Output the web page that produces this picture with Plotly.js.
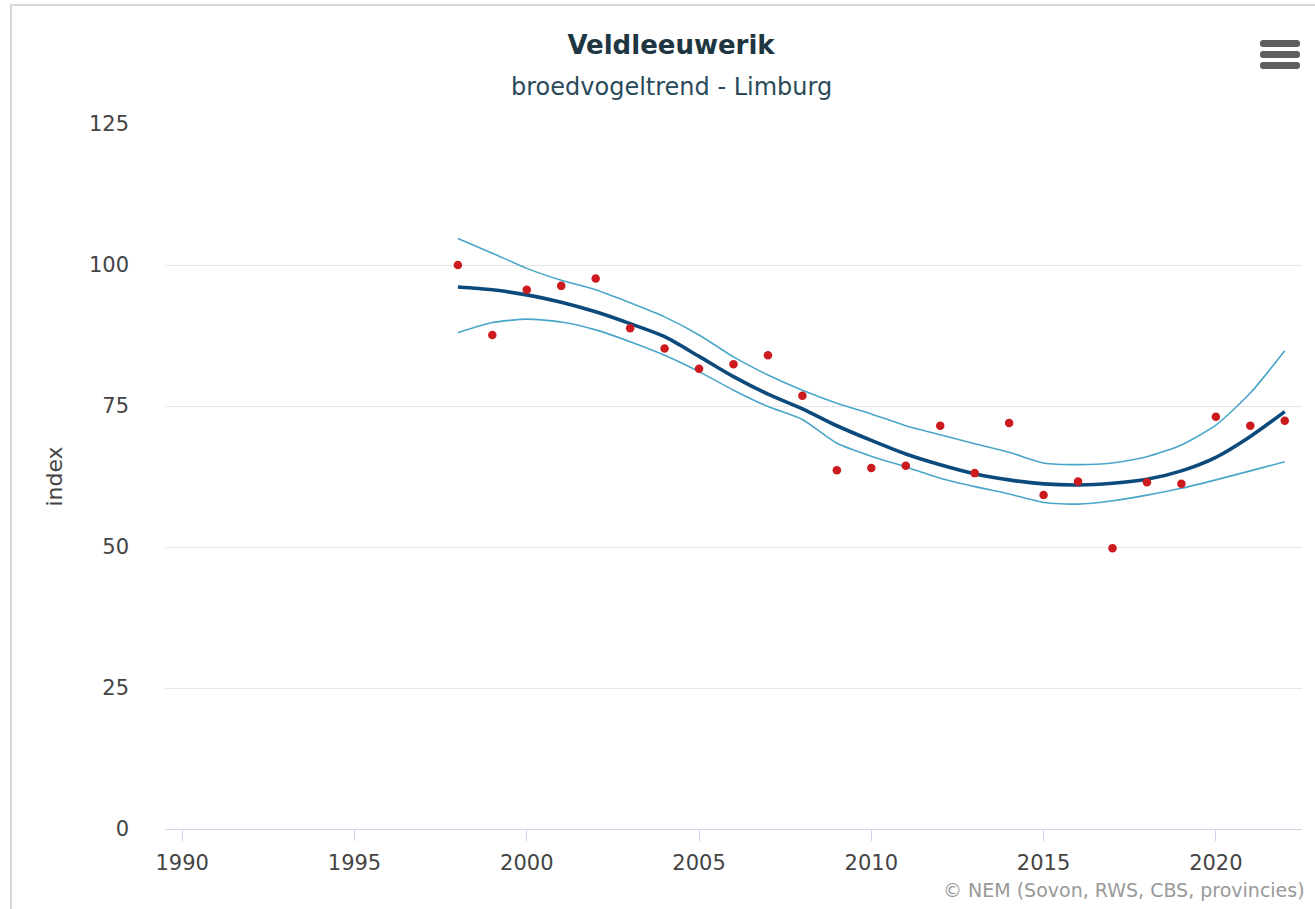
<!DOCTYPE html>
<html>
<head>
<meta charset="utf-8">
<script src="https://cdn.plot.ly/plotly-3.0.1.min.js"></script>
<style>
  html, body { margin: 0; padding: 0; background: #fff; }
  #wrap { position: relative; width: 1315px; height: 909px; overflow: hidden; }
  #frame { position: absolute; left: 10px; top: 4px; width: 1320px; height: 920px; border-left: 2px solid #d8d8d8; border-top: 2px solid #d8d8d8; box-sizing: border-box; pointer-events: none; }
  #chart { position: absolute; left: 0; top: 0; width: 1315px; height: 909px; }
  #menu { position: absolute; left: 1260px; top: 40px; width: 40px; height: 32px; }
  #menu div { height: 7px; background: #5f5f5f; border-radius: 3px; margin-bottom: 4px; }
</style>
</head>
<body>
<div id="wrap">
  <div id="chart"></div>
  <div id="frame"></div>
  <div id="menu"><div></div><div></div><div></div></div>
</div>
<script>
const years = [1998,1999,2000,2001,2002,2003,2004,2005,2006,2007,2008,2009,2010,2011,2012,2013,2014,2015,2016,2017,2018,2019,2020,2021,2022];
const indexValues = [100.0,87.6,95.6,96.3,97.6,88.8,85.2,81.6,82.4,84.0,76.8,63.6,64.0,64.4,71.5,63.1,72.0,59.2,61.6,49.8,61.5,61.2,73.1,71.5,72.4];
const trend = [96.1,95.6,94.7,93.4,91.7,89.6,87.3,83.8,80.2,77.1,74.5,71.5,68.9,66.5,64.6,63.0,61.9,61.2,61.0,61.3,62.0,63.5,65.9,69.6,74.0];
const upperCI = [104.7,102.1,99.4,97.3,95.6,93.3,90.8,87.6,83.7,80.5,77.8,75.5,73.6,71.5,69.9,68.3,66.8,64.9,64.6,64.9,66.0,68.1,71.6,77.3,84.8];
const lowerCI = [88.0,89.8,90.4,89.9,88.5,86.4,84.0,81.1,77.8,74.9,72.6,68.4,66.1,64.2,62.2,60.7,59.4,57.9,57.6,58.2,59.2,60.4,61.9,63.5,65.1];
const xTicks = [1990,1995,2000,2005,2010,2015,2020];
const yTicks = [0,25,50,75,100,125];

const font = '"DejaVu Sans", Verdana, sans-serif';

const traces = [
  { x: years, y: upperCI, type: 'scatter', mode: 'lines', line: { color: '#4aa6c9', width: 1.6, shape: 'spline', smoothing: 0.6 }, hoverinfo: 'skip' },
  { x: years, y: lowerCI, type: 'scatter', mode: 'lines', line: { color: '#4aa6c9', width: 1.6, shape: 'spline', smoothing: 0.6 }, hoverinfo: 'skip' },
  { x: years, y: trend, type: 'scatter', mode: 'lines', line: { color: '#0c4a7c', width: 3.6, shape: 'spline', smoothing: 0.8 } },
  { x: years, y: indexValues, type: 'scatter', mode: 'markers', marker: { color: '#cc1a1f', size: 8.5 } }
];

const layout = {
  width: 1315, height: 909,
  margin: { l: 165, r: 13, t: 124, b: 80 },
  paper_bgcolor: 'rgba(0,0,0,0)', plot_bgcolor: 'rgba(0,0,0,0)',
  showlegend: false,
  font: { family: font, color: '#444', size: 21 },
  title: { text: '<b>Veldleeuwerik</b>', font: { family: font, size: 26, color: '#1e3542' }, xref: 'container', x: 671/1315, xanchor: 'center', yref: 'container', y: 1 - 45/909, yanchor: 'middle' },
  xaxis: {
    range: [1989.5, 2022.5], tickvals: xTicks, ticktext: xTicks.map(String),
    showgrid: false, zeroline: false, showline: true, linecolor: '#ccd6eb', linewidth: 1,
    ticks: 'outside', ticklen: 11, tickcolor: '#ccd6eb', tickwidth: 1, ticklabelstandoff: 4,
    tickfont: { family: font, size: 21, color: '#444' }
  },
  yaxis: {
    range: [0, 125], tickvals: yTicks, ticktext: yTicks.map(String),
    showgrid: true, gridcolor: '#e6e6e6', gridwidth: 1, zeroline: false, showline: false,
    ticks: '', ticklabelstandoff: 35,
    tickfont: { family: font, size: 21, color: '#444' },
    title: { text: 'index', font: { family: font, size: 22, color: '#444' }, standoff: 20 }
  },
  annotations: [
    { text: 'broedvogeltrend - Limburg', xref: 'paper', yref: 'paper', x: (671-165)/1137, y: (829-87)/705, xanchor: 'center', yanchor: 'middle', showarrow: false, font: { family: font, size: 24, color: '#2a4a5a' } },
    { text: '© NEM (Sovon, RWS, CBS, provincies)', xref: 'paper', yref: 'paper', x: (1307-165)/1137, y: (829-890)/705, xanchor: 'right', yanchor: 'middle', showarrow: false, font: { family: font, size: 19, color: '#999' } }
  ]
};

Plotly.newPlot('chart', traces, layout, { displayModeBar: false, staticPlot: true });
</script>
</body>
</html>
